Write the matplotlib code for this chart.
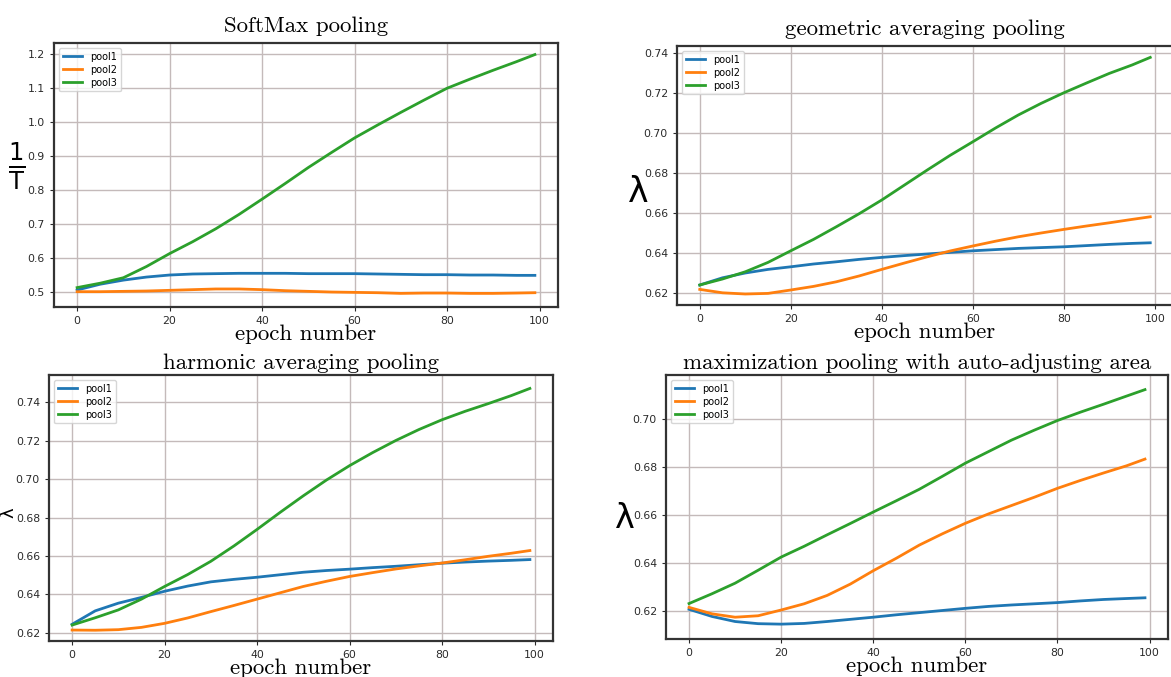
import numpy as np
import matplotlib
matplotlib.use("Agg")
import matplotlib.pyplot as plt

epochs = [0, 5, 10, 15, 20, 25, 30, 35, 40, 45, 50, 55, 60, 65, 70, 75, 80, 85, 90, 95, 99]
labels = ["pool1", "pool2", "pool3"]

# SoftMax pooling (1/T)
softmax_pool1 = [0.505, 0.522, 0.534, 0.543, 0.549, 0.552, 0.553, 0.554, 0.554, 0.554, 0.553,
                 0.553, 0.553, 0.552, 0.551, 0.550, 0.550, 0.549, 0.549, 0.548, 0.548]
softmax_pool2 = [0.500, 0.500, 0.501, 0.502, 0.504, 0.506, 0.508, 0.508, 0.506, 0.503, 0.501,
                 0.499, 0.498, 0.497, 0.495, 0.496, 0.496, 0.495, 0.495, 0.496, 0.497]
softmax_pool3 = [0.512, 0.525, 0.541, 0.574, 0.612, 0.647, 0.685, 0.727, 0.772, 0.818, 0.865,
                 0.909, 0.952, 0.990, 1.027, 1.063, 1.098, 1.125, 1.151, 1.176, 1.197]

# geometric averaging pooling (lambda)
geom_pool1 = [0.6242, 0.6278, 0.6302, 0.6320, 0.6333, 0.6347, 0.6358, 0.6370, 0.6380, 0.6389, 0.6397,
              0.6405, 0.6413, 0.6419, 0.6425, 0.6429, 0.6433, 0.6439, 0.6445, 0.6450, 0.6453]
geom_pool2 = [0.6220, 0.6203, 0.6197, 0.6200, 0.6217, 0.6235, 0.6258, 0.6287, 0.6320, 0.6352, 0.6383,
              0.6412, 0.6437, 0.6461, 0.6483, 0.6502, 0.6520, 0.6537, 0.6553, 0.6570, 0.6583]
geom_pool3 = [0.6242, 0.6272, 0.6308, 0.6355, 0.6413, 0.6470, 0.6533, 0.6598, 0.6667, 0.6742, 0.6817,
              0.6890, 0.6958, 0.7027, 0.7092, 0.7150, 0.7203, 0.7252, 0.7300, 0.7342, 0.7380]

# harmonic averaging pooling (lambda)
harm_pool1 = [0.6244, 0.6314, 0.6354, 0.6384, 0.6416, 0.6443, 0.6465, 0.6478, 0.6489, 0.6502, 0.6515,
              0.6524, 0.6531, 0.6539, 0.6546, 0.6554, 0.6562, 0.6568, 0.6573, 0.6577, 0.6581]
harm_pool2 = [0.6214, 0.6213, 0.6216, 0.6228, 0.6249, 0.6277, 0.6310, 0.6342, 0.6375, 0.6408, 0.6441,
              0.6468, 0.6493, 0.6513, 0.6532, 0.6548, 0.6563, 0.6580, 0.6598, 0.6614, 0.6628]
harm_pool3 = [0.6240, 0.6278, 0.6319, 0.6375, 0.6441, 0.6503, 0.6572, 0.6652, 0.6738, 0.6827, 0.6913,
              0.6995, 0.7070, 0.7138, 0.7201, 0.7258, 0.7309, 0.7353, 0.7393, 0.7435, 0.7472]

# maximization pooling with auto-adjusting area (lambda)
max_pool1 = [0.6207, 0.6177, 0.6156, 0.6147, 0.6145, 0.6148, 0.6156, 0.6165, 0.6174, 0.6184, 0.6193,
             0.6202, 0.6211, 0.6219, 0.6225, 0.6230, 0.6235, 0.6242, 0.6248, 0.6252, 0.6255]
max_pool2 = [0.6215, 0.6188, 0.6174, 0.6180, 0.6204, 0.6230, 0.6265, 0.6312, 0.6368, 0.6420, 0.6475,
             0.6522, 0.6566, 0.6605, 0.6640, 0.6675, 0.6712, 0.6745, 0.6776, 0.6806, 0.6834]
max_pool3 = [0.6231, 0.6272, 0.6316, 0.6370, 0.6425, 0.6470, 0.6518, 0.6565, 0.6613, 0.6660, 0.6708,
             0.6762, 0.6817, 0.6865, 0.6913, 0.6955, 0.6995, 0.7030, 0.7063, 0.7097, 0.7124]

W, H = 1171, 677
fig = plt.figure(figsize=(W / 100, H / 100), dpi=100)

def px_axes(l, t, r, b):
    # pixel box -> figure fraction
    return [l / W, 1 - b / H, (r - l) / W, (b - t) / H]

panels = [
    dict(box=(54, 43, 558, 307), title="SoftMax pooling", series=(softmax_pool1, softmax_pool2, softmax_pool3),
         ylim=(0.455, 1.231), yticks=np.arange(0.5, 1.21, 0.1), fmt="%.1f",
         ylab=r"$\mathregular{\frac{1}{T}}$", ylab_xy=(17, 166), ylab_size=25, ylab_rot=0, pad=8),
    dict(box=(677, 46, 1173, 305), title="geometric averaging pooling", series=(geom_pool1, geom_pool2, geom_pool3),
         ylim=(0.6142, 0.7437), yticks=np.arange(0.62, 0.741, 0.02), fmt="%.2f",
         ylab="λ", ylab_xy=(638, 192), ylab_size=25, ylab_rot=0, pad=8),
    dict(box=(49, 375, 553, 641), title="harmonic averaging pooling", series=(harm_pool1, harm_pool2, harm_pool3),
         ylim=(0.6157, 0.7542), yticks=np.arange(0.62, 0.741, 0.02), fmt="%.2f",
         ylab="λ", ylab_xy=(8, 513), ylab_size=13, ylab_rot=90, pad=4),
    dict(box=(666, 375, 1168, 639), title="maximization pooling with auto-adjusting area",
         series=(max_pool1, max_pool2, max_pool3),
         ylim=(0.6083, 0.7185), yticks=np.arange(0.62, 0.701, 0.02), fmt="%.2f",
         ylab="λ", ylab_xy=(625, 518), ylab_size=24, ylab_rot=0, pad=4),
]

for p in panels:
    ax = fig.add_axes(px_axes(*p["box"]))
    for ys, lab in zip(p["series"], labels):
        ax.plot(epochs, ys, label=lab, linewidth=2)
    ax.set_xlim(-5, 104)
    ax.set_ylim(*p["ylim"])
    ax.set_xticks([0, 20, 40, 60, 80, 100])
    ax.set_yticks(p["yticks"])
    ax.yaxis.set_major_formatter(matplotlib.ticker.FormatStrFormatter(p["fmt"]))
    ax.tick_params(labelsize=7.8, colors="#2a2a2a", length=3)
    ax.grid(True, color="#c4baba", linewidth=1.0)
    ax.set_axisbelow(True)
    for s in ax.spines.values():
        s.set_linewidth(1.6)
        s.set_color("#333333")
    ax.set_title(p["title"], fontfamily="cmr10", fontsize=16.5, pad=p["pad"])
    ax.set_xlabel("epoch number", fontfamily="cmr10", fontsize=16.5, labelpad=-1)
    ax.legend(loc="upper left", fontsize=7, handlelength=2, borderpad=0.4, labelspacing=0.3)
    fig.text(p["ylab_xy"][0] / W, 1 - p["ylab_xy"][1] / H, p["ylab"], fontsize=p["ylab_size"],
             rotation=p["ylab_rot"], ha="center", va="center")

fig.savefig("out.png", dpi=100)
